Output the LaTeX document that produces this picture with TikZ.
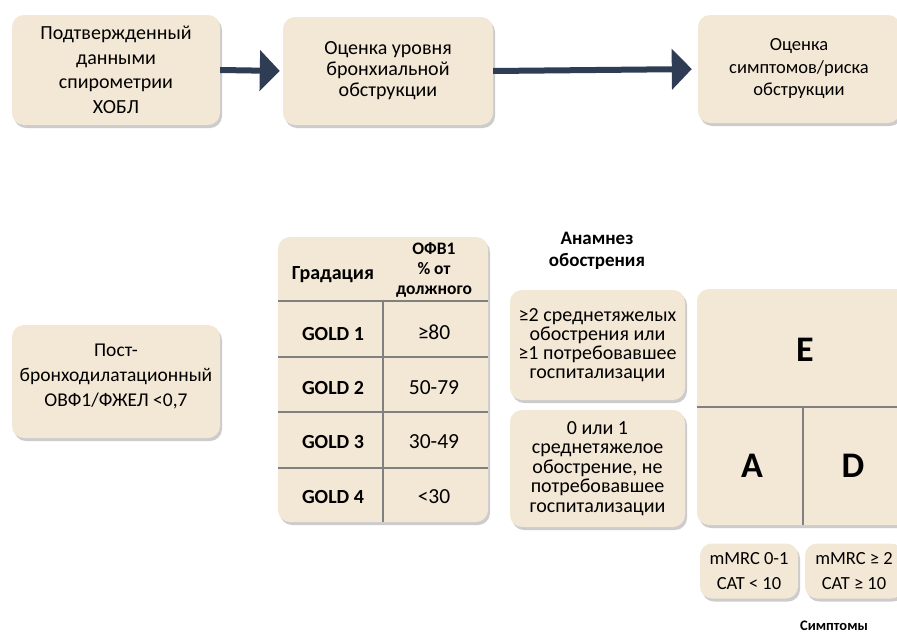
\documentclass[tikz,border=0pt]{standalone}
\usepackage{fontspec}
\setmainfont{Carlito}
\usetikzlibrary{arrows.meta,shadows}
\definecolor{boxfill}{HTML}{F3E7D5}
\definecolor{arrowc}{HTML}{2F3D54}
\definecolor{gridc}{HTML}{808080}
\tikzset{
  box/.style={rounded corners=12pt, fill=boxfill, align=center, inner sep=2pt,
    drop shadow={opacity=0.4, shadow xshift=2pt, shadow yshift=-3pt},
    font=\fontsize{20}{24.5}\selectfont},
  flowarrow/.style={draw=arrowc, line width=6pt, -{Triangle[length=20pt,width=40pt]}},
  gridline/.style={draw=gridc, line width=1.5pt},
  hdr/.style={font=\bfseries\fontsize{17.5}{20}\selectfont, align=center},
  cell/.style={font=\fontsize{21.5}{24}\selectfont, align=center},
  boldcell/.style={font=\bfseries\fontsize{20}{24}\selectfont, align=center},
  big/.style={font=\bfseries\fontsize{36}{40}\selectfont}
}
\begin{document}
\begin{tikzpicture}[x=1pt,y=-1pt]
\fill[white] (0,0) rectangle (897,637);
\path[clip] (0,0) rectangle (897,637);
% top row
\node[box, minimum width=208pt, minimum height=110pt] (b1) at (116,70) {Подтвержденный\\данными\\спирометрии\\ХОБЛ};
\node[box, minimum width=210pt, minimum height=108pt, font=\fontsize{20}{21}\selectfont] (b2) at (388,71) {Оценка уровня\\бронхиальной\\обструкции};
\node[box, minimum width=202pt, minimum height=108pt, font=\fontsize{18.5}{22.5}\selectfont] (b3) at (799,69) {Оценка\\симптомов/риска\\обструкции};
\draw[flowarrow, shorten >=3pt] (b1.east) -- (b2.west);
\draw[flowarrow, shorten >=6pt] (b2.east) -- (b3.west);
% left box
\node[box, minimum width=208pt, minimum height=113pt] (post) at (116,381.5) {};
\node[align=center, font=\fontsize{19.5}{25}\selectfont] (posttext) at (116,376) {Пост-\\бронходилатационный\\ОВФ1/ФЖЕЛ <0,7};
% table
\node[box, minimum width=210pt, minimum height=285pt] (tab) at (383,379.5) {};
\coordinate (h1) at (278,301);
\coordinate (h1e) at (488,301);
\coordinate (r1) at (278,357);
\coordinate (r1e) at (488,357);
\coordinate (r2) at (278,412);
\coordinate (r2e) at (488,412);
\coordinate (r3) at (278,468);
\coordinate (r3e) at (488,468);
\coordinate (vc) at (383,301);
\coordinate (vce) at (383,522);
\draw[gridline] (h1) -- (h1e);
\draw[gridline] (r1) -- (r1e);
\draw[gridline] (r2) -- (r2e);
\draw[gridline] (r3) -- (r3e);
\draw[gridline] (vc) -- (vce);
\node[hdr, font=\bfseries\fontsize{20}{22}\selectfont] (hgr) at (333,275) {Градация};
\node[hdr] (hofv) at (434,270) {ОФВ1\\\% от\\должного};
\node[boldcell] (g1) at (333,334) {GOLD 1};
\node[boldcell] (g2) at (333,388) {GOLD 2};
\node[boldcell] (g3) at (333,442) {GOLD 3};
\node[boldcell] (g4) at (333,497) {GOLD 4};
\node[cell] (v1) at (434,332) {≥80};
\node[cell] (v2) at (434,388) {50-79};
\node[cell] (v3) at (434,442) {30-49};
\node[cell] (v4) at (434,497) {<30};
% anamnesis
\node[hdr, font=\bfseries\fontsize{19}{22}\selectfont] (anam) at (597,251) {Анамнез\\обострения};
\node[box, minimum width=175pt, minimum height=110pt, font=\fontsize{20}{19}\selectfont] (ex1) at (597.5,345) {≥2 среднетяжелых\\обострения или\\≥1 потребовавшее\\госпитализации};
\node[box, minimum width=175pt, minimum height=117pt, font=\fontsize{20}{19.5}\selectfont] (ex0) at (597.5,468.5) {0 или 1\\среднетяжелое\\обострение, не\\потребовавшее\\госпитализации};
% grid
\node[box, minimum width=222pt, minimum height=236pt] (grid) at (808,407) {};
\coordinate (gh) at (697,407);
\coordinate (ghe) at (919,407);
\coordinate (gv) at (803,407);
\coordinate (gve) at (803,525);
\draw[gridline] (gh) -- (ghe);
\draw[gridline] (gv) -- (gve);
\node[big] (E) at (805,350) {E};
\node[big] (A) at (752,466) {A};
\node[big] (D) at (853,466) {D};
% symptoms
\node[box, minimum width=98pt, minimum height=55pt, font=\fontsize{18.5}{25}\selectfont] (m1) at (749,571) {mMRC 0-1\\CAT < 10};
\node[box, minimum width=98pt, minimum height=55pt, font=\fontsize{18.5}{25}\selectfont] (m2) at (854,571) {mMRC ≥ 2\\CAT ≥ 10};
\node[hdr, font=\bfseries\fontsize{14.5}{18}\selectfont, inner sep=1pt] (sym) at (834,626) {Симптомы};
\end{tikzpicture}
\end{document}
